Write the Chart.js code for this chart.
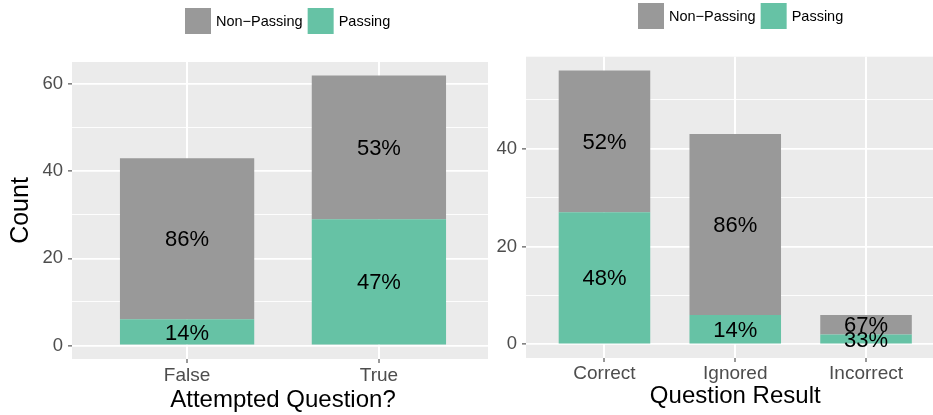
<!DOCTYPE html>
<html><head><meta charset="utf-8">
<script src="https://cdn.jsdelivr.net/npm/chart.js@4/dist/chart.umd.min.js"></script>
<style>
html,body{margin:0;padding:0;background:#fff;overflow:hidden;width:933px;height:415px;position:relative;}
#c1{position:absolute;left:0;top:0;}
#c2{position:absolute;left:488px;top:0;background:#fff;}
</style></head><body>
<canvas id="c1" width="500" height="415"></canvas>
<canvas id="c2" width="462" height="415"></canvas>
<script>
// ---- data ----
const attemptCategories = ['False', 'True'];
const attemptPassing = [6, 29];
const attemptNonPassing = [37, 33];

const resultCategories = ['Correct', 'Ignored', 'Incorrect'];
const resultPassing = [27, 6, 2];
const resultNonPassing = [29, 37, 4];

const leftYTicks = [0, 10, 20, 30, 40, 50, 60];
const rightYTicks = [0, 10, 20, 30, 40, 50];
const legendLabels = ['Non\u2212Passing', 'Passing'];

// ---- styles ----
const GREY = '#999999';
const GREEN = '#66C2A5';
const FONT = '"Liberation Sans", Arial, Helvetica, sans-serif';

const panelBg = {
  id: 'panelBg',
  beforeDraw(chart) {
    const a = chart.chartArea, ctx = chart.ctx;
    ctx.save();
    ctx.fillStyle = '#EBEBEB';
    ctx.fillRect(a.left, a.top, a.right - a.left, a.bottom - a.top);
    ctx.restore();
  }
};

const pctLabels = {
  id: 'pctLabels',
  afterDatasetsDraw(chart) {
    const ctx = chart.ctx;
    const ds = chart.data.datasets;
    ctx.save();
    ctx.font = '22px ' + FONT;
    ctx.fillStyle = '#000';
    ctx.textAlign = 'center';
    ctx.textBaseline = 'middle';
    ds.forEach((d, di) => {
      const meta = chart.getDatasetMeta(di);
      meta.data.forEach((bar, i) => {
        const total = ds.reduce((s, dd) => s + dd.data[i].y, 0);
        const v = d.data[i].y;
        const pct = Math.round(v / total * 100) + '%';
        ctx.fillText(pct, bar.x, (bar.y + bar.base) / 2 + 1.5);
      });
    });
    ctx.restore();
  }
};

const keyLegend = {
  id: 'keyLegend',
  afterDraw(chart, args, opts) {
    const ctx = chart.ctx;
    ctx.save();
    ctx.font = '14.5px ' + FONT;
    ctx.textBaseline = 'middle';
    ctx.textAlign = 'left';
    let x = opts.x;
    const y = opts.y, s = 26;
    const cols = [GREY, GREEN];
    legendLabels.forEach((lab, i) => {
      ctx.fillStyle = cols[i];
      ctx.fillRect(x, y, s, s);
      x += s + 5;
      ctx.fillStyle = '#000';
      ctx.fillText(lab, x, y + s / 2 + 1);
      x += ctx.measureText(lab).width + 5;
    });
    ctx.restore();
  }
};

function makeChart(canvas, cats, pass, nonpass, yTicks, cfg) {
  const toXY = arr => arr.map((v, i) => ({ x: i + 1, y: v }));
  return new Chart(canvas, {
    type: 'bar',
    data: {
      datasets: [
        { label: legendLabels[1], data: toXY(pass), backgroundColor: GREEN, borderWidth: 0,
          categoryPercentage: 1, barPercentage: 0.7 },
        { label: legendLabels[0], data: toXY(nonpass), backgroundColor: GREY, borderWidth: 0,
          categoryPercentage: 1, barPercentage: 0.7 }
      ]
    },
    options: {
      responsive: false,
      animation: false,
      devicePixelRatio: 1,
      layout: { padding: cfg.padding },
      plugins: {
        legend: { display: false },
        tooltip: { enabled: false },
        keyLegend: cfg.legend
      },
      scales: {
        x: {
          type: 'linear',
          stacked: true,
          offset: false,
          min: 0.4,
          max: cats.length + 0.6,
          afterBuildTicks: s => { s.ticks = cats.map((c, i) => ({ value: i + 1 })); },
          afterFit: s => { s.height = cfg.xHeight; },
          border: { display: false },
          grid: { offset: false, color: '#FFFFFF', lineWidth: 2, drawTicks: true,
                  tickLength: 4, tickColor: '#333333', tickWidth: 1 },
          ticks: { autoSkip: false, maxRotation: 0, padding: cfg.xTickPad, color: '#4D4D4D',
                   font: { family: FONT, size: 19 },
                   callback: v => cats[v - 1] !== undefined ? cats[v - 1] : '' },
          title: { display: true, text: cfg.xTitle, color: '#000',
                   font: { family: FONT, size: 24 }, padding: { top: 0, bottom: cfg.xTitlePad } }
        },
        y: {
          type: 'linear',
          stacked: true,
          min: cfg.yMin,
          max: cfg.yMax,
          afterBuildTicks: s => { s.ticks = yTicks.map(v => ({ value: v })); },
          afterFit: s => { s.width = cfg.yWidth; },
          border: { display: false },
          grid: {
            color: '#FFFFFF',
            lineWidth: c => (c.tick && c.tick.value % 20 === 0) ? 1.8 : 0.9,
            drawTicks: true, tickLength: 4, tickWidth: 1,
            tickColor: c => (c.tick && c.tick.value % 20 === 0) ? '#333333' : 'rgba(0,0,0,0)'
          },
          ticks: { autoSkip: false, padding: 5, color: '#4D4D4D',
                   font: { family: FONT, size: 18.5 },
                   callback: v => (v % 20 === 0) ? String(v) : '' },
          title: cfg.yTitle ? { display: true, text: cfg.yTitle, color: '#000',
                   font: { family: FONT, size: 25 }, padding: { top: 6, bottom: 0 } }
                 : { display: false }
        }
      }
    },
    plugins: [panelBg, pctLabels, keyLegend]
  });
}

makeChart(document.getElementById('c1'), attemptCategories, attemptPassing, attemptNonPassing, leftYTicks, {
  padding: { top: 62, right: 6, bottom: 0, left: 0 },
  xHeight: 56, yWidth: 72, yMin: -3.1, yMax: 65.1,
  xTickPad: 1, xTitlePad: 0.5,
  xTitle: 'Attempted Question?', yTitle: 'Count',
  legend: { x: 185, y: 8 }
});

makeChart(document.getElementById('c2'), resultCategories, resultPassing, resultNonPassing, rightYTicks, {
  padding: { top: 56.7, right: 5.5, bottom: 0, left: 0 },
  xHeight: 57, yWidth: 38, yMin: -2.8, yMax: 58.8,
  xTickPad: 0, xTitlePad: 4.5,
  xTitle: 'Question Result', yTitle: null,
  legend: { x: 150, y: 3 }
});
</script>
</body></html>
